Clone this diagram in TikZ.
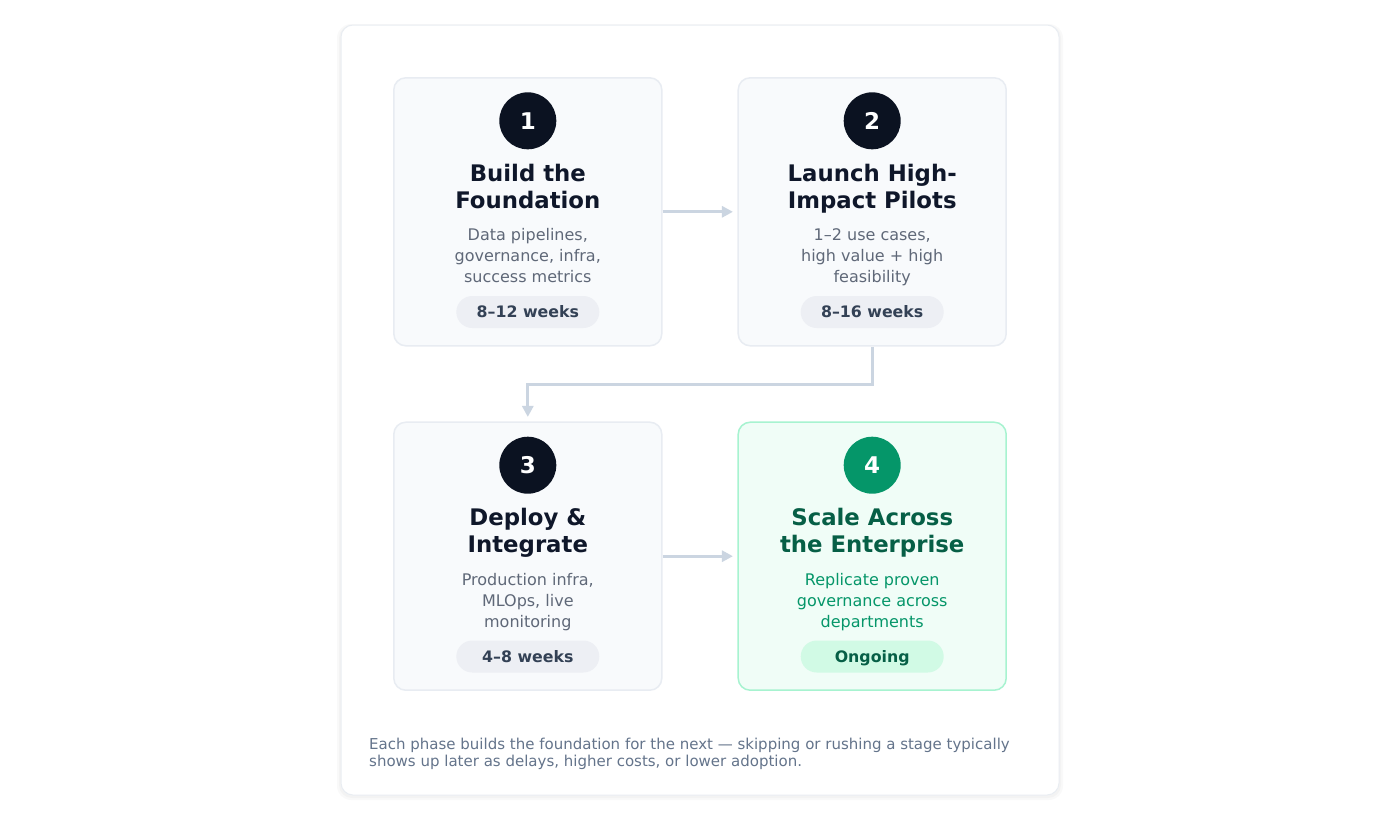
\documentclass[tikz,border=0pt]{standalone}
\usepackage{fontspec}
\setmainfont{DejaVu Sans}
\usetikzlibrary{arrows.meta,calc}
\definecolor{cardline}{HTML}{E9EDF2}
\definecolor{boxfill}{HTML}{F8FAFC}
\definecolor{boxline}{HTML}{E8ECF2}
\definecolor{numdark}{HTML}{0B1221}
\definecolor{titledark}{HTML}{0F172A}
\definecolor{descgray}{HTML}{5F6878}
\definecolor{pillfill}{HTML}{EDEFF4}
\definecolor{pilltext}{HTML}{334155}
\definecolor{greennum}{HTML}{059669}
\definecolor{greentitle}{HTML}{065F46}
\definecolor{greenfill}{HTML}{F0FDF7}
\definecolor{greenline}{HTML}{A7F3D0}
\definecolor{greenpill}{HTML}{D1FAE5}
\definecolor{arrowcol}{HTML}{CBD5E1}
\definecolor{footcol}{HTML}{64748B}
\begin{document}
\begin{tikzpicture}[x=1pt,y=-1pt,
  phase/.style={draw=boxline, fill=boxfill, line width=1.5pt, rounded corners=12pt,
    minimum width=268pt, minimum height=268pt, inner sep=0pt},
  phasegreen/.style={phase, draw=greenline, fill=greenfill},
  num/.style={circle, fill=numdark, minimum size=57pt, inner sep=0pt, text=white,
    font=\fontsize{23}{23}\selectfont\bfseries},
  numgreen/.style={num, fill=greennum},
  ttl/.style={anchor=base, inner sep=0pt, text=titledark, font=\fontsize{22.8}{27}\selectfont\bfseries},
  ttlgreen/.style={ttl, text=greentitle},
  desc/.style={anchor=base, inner sep=0pt, text=descgray, font=\fontsize{16}{21}\selectfont},
  descgreen/.style={desc, text=greennum},
  pill/.style={fill=pillfill, rounded corners=16pt, minimum width=143pt, minimum height=32pt,
    inner sep=0pt, text height=11.6pt, text depth=0pt, text=pilltext, font=\fontsize{15.8}{16}\selectfont\bfseries},
  pillgreen/.style={pill, fill=greenpill, text=greentitle},
  conn/.style={draw=arrowcol, line width=3pt, -{Triangle[length=11pt,width=11pt]}, shorten >=4.5pt},
  foot/.style={anchor=base west, inner sep=0pt, text=footcol, font=\fontsize{15}{17.5}\selectfont}
]
\useasboundingbox (0,0) rectangle (1400,820);
% card with faint shadow
\fill[black, opacity=0.025, rounded corners=14pt] (337,24) rectangle (1063,800);
\fill[black, opacity=0.025, rounded corners=13pt] (339,25) rectangle (1061,798);
\draw[cardline, fill=white, line width=1pt, rounded corners=12pt] (341,25) rectangle (1059,795);

% boxes
\node[phase] (b1) at (527.8,211.8) {};
\node[phase] (b2) at (872.2,211.8) {};
\node[phase] (b3) at (527.8,556.2) {};
\node[phasegreen] (b4) at (872.2,556.2) {};

% box 1
\node[num] (n1) at (527.8,120.8) {1};
\node[ttl] (t1a) at (527.8,181) {Build the};
\node[ttl] (t1b) at (527.8,208) {Foundation};
\node[desc] (d1a) at (527.8,240.5) {Data pipelines,};
\node[desc] (d1b) at (527.8,261.5) {governance, infra,};
\node[desc] (d1c) at (527.8,282.5) {success metrics};
\node[pill] (p1) at (527.8,312) {8–12 weeks};

% box 2
\node[num] (n2) at (872.2,120.8) {2};
\node[ttl] (t2a) at (872.2,181) {Launch High-};
\node[ttl] (t2b) at (872.2,208) {Impact Pilots};
\node[desc] (d2a) at (872.2,240.5) {1–2 use cases,};
\node[desc] (d2b) at (872.2,261.5) {high value + high};
\node[desc] (d2c) at (872.2,282.5) {feasibility};
\node[pill] (p2) at (872.2,312) {8–16 weeks};

% box 3
\node[num] (n3) at (527.8,465.2) {3};
\node[ttl] (t3a) at (527.8,525.5) {Deploy \&};
\node[ttl] (t3b) at (527.8,552.5) {Integrate};
\node[desc] (d3a) at (527.8,585) {Production infra,};
\node[desc] (d3b) at (527.8,606) {MLOps, live};
\node[desc] (d3c) at (527.8,627) {monitoring};
\node[pill] (p3) at (527.8,656.5) {4–8 weeks};

% box 4
\node[numgreen] (n4) at (872.2,465.2) {4};
\node[ttlgreen] (t4a) at (872.2,525.5) {Scale Across};
\node[ttlgreen] (t4b) at (872.2,552.5) {the Enterprise};
\node[descgreen] (d4a) at (872.2,585) {Replicate proven};
\node[descgreen] (d4b) at (872.2,606) {governance across};
\node[descgreen] (d4c) at (872.2,627) {departments};
\node[pillgreen] (p4) at (872.2,656.5) {Ongoing};

% connectors
\draw[conn] (b1.east) -- (b2.west);
\draw[conn] (b3.east) -- (b4.west);
\coordinate (bend) at ($(b2.south)+(0,37.5)$);
\draw[conn] (b2.south) -- (bend) -| (b3.north);

% footer
\node[foot] (f1) at (369,749.3) {Each phase builds the foundation for the next — skipping or rushing a stage typically};
\node[foot] (f2) at (369,766.8) {shows up later as delays, higher costs, or lower adoption.};
\end{tikzpicture}
\end{document}
